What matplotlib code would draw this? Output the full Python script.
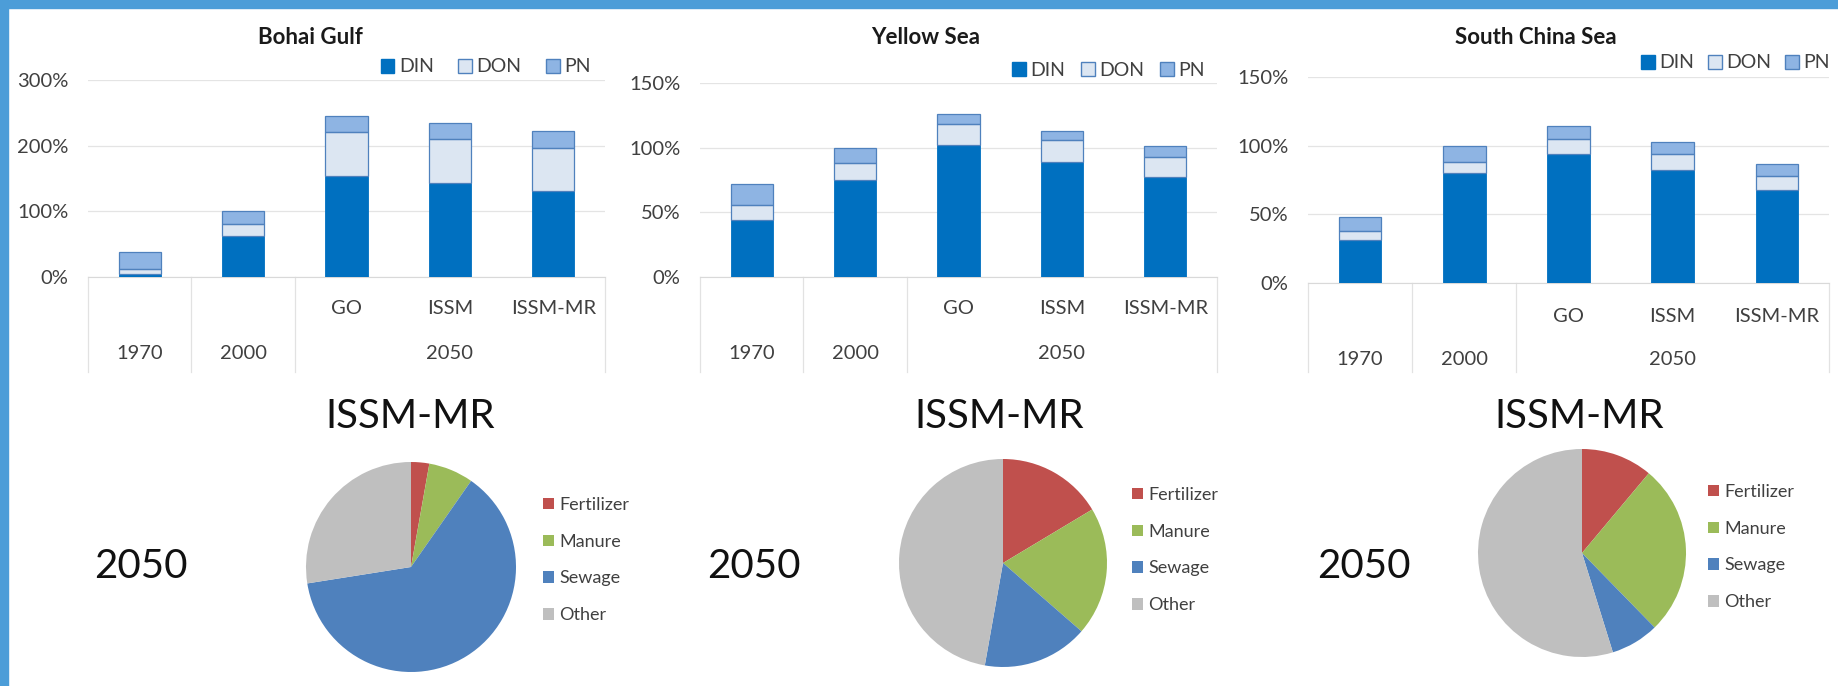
import matplotlib
matplotlib.use("Agg")
import matplotlib.pyplot as plt
from matplotlib.patches import Patch, Rectangle
from matplotlib.transforms import blended_transform_factory
import numpy as np

plt.rcParams['font.family'] = ['Lato', 'DejaVu Sans']

W, H = 1838, 686

# ---- data ----
row1_labels = ['', '', 'GO', 'ISSM', 'ISSM-MR']
row2_labels = ['1970', '2000', '2050']
row2_pos = [0, 1, 3]
nutrients = ['DIN', 'DON', 'PN']

bohai_din = [5, 62, 154, 143, 131]
bohai_don = [7, 19, 67, 67, 66]
bohai_pn = [26, 19, 24, 24, 25]

yellow_din = [44, 75, 102, 89, 77]
yellow_don = [12, 13, 16, 17, 16]
yellow_pn = [16, 12, 8, 7, 8]

scs_din = [31, 80, 94, 82, 68]
scs_don = [7, 8, 11, 12, 10]
scs_pn = [10, 12, 9, 9, 9]

sources = ['Fertilizer', 'Manure', 'Sewage', 'Other']
bohai_src = [2.8, 6.9, 62.8, 27.5]
yellow_src = [16.4, 20.0, 16.4, 47.2]
scs_src = [11.1, 26.6, 7.5, 54.8]

DIN_C, DON_C, PN_C, EDGE_C = '#0070C0', '#DCE6F2', '#8EB4E3', '#4F81BD'
PIE_C = ['#C0504D', '#9BBB59', '#4F81BD', '#BFBFBF']
TXT = '#404040'


def fx(x):
    return x / W


def fy(y):
    return 1 - y / H


def bar_panel(fig, left, right, y0, ytop, ymax, ystep, title, title_x,
              din, don, pn, leg_x, leg_y, colsp, row_y1, row_y2):
    ax = fig.add_axes([fx(left), fy(y0), fx(right - left), (y0 - ytop) / H])
    x = np.arange(len(din))
    din = np.array(din)
    don = np.array(don)
    pn = np.array(pn)
    w = 0.41
    ax.bar(x, din, w, color=DIN_C, edgecolor=DIN_C, linewidth=0.6, zorder=3)
    # DON: light fill with faint vertical dotted pattern
    ax.bar(x, don, w, bottom=din, color=DON_C, edgecolor='#C6D7EC',
           hatch=':::', linewidth=0, zorder=3)
    ax.bar(x, don, w, bottom=din, fill=False, edgecolor=EDGE_C,
           linewidth=0.9, zorder=4)
    ax.bar(x, pn, w, bottom=din + don, color=PN_C, edgecolor=EDGE_C,
           linewidth=0.9, zorder=3)
    ax.set_xlim(-0.5, len(din) - 0.5)
    ax.set_ylim(0, ymax)
    ax.set_yticks(np.arange(0, ymax + 1, ystep))
    ax.set_yticklabels([f'{int(v)}%' for v in np.arange(0, ymax + 1, ystep)])
    ax.tick_params(axis='y', length=0, pad=14, labelsize=14.5, labelcolor=TXT)
    ax.set_xticks([])
    for s in ['top', 'right', 'left']:
        ax.spines[s].set_visible(False)
    ax.spines['bottom'].set_color('#D9D9D9')
    ax.yaxis.grid(True, color='#E4E4E4', linewidth=0.9, zorder=0)
    ax.set_axisbelow(True)

    tr = blended_transform_factory(ax.transData, fig.transFigure)
    for xi, lab in zip(x, row1_labels):
        if lab:
            ax.text(xi, fy(row_y1), lab, transform=tr, ha='center',
                    va='center', fontsize=14.5, color=TXT)
    for xi, lab in zip(row2_pos, row2_labels):
        ax.text(xi, fy(row_y2), lab, transform=tr, ha='center',
                va='center', fontsize=14.5, color=TXT)
    for xs in [-0.5, 0.5, 1.5, len(din) - 0.5]:
        ax.plot([xs, xs], [fy(y0), fy(372)], transform=tr, color='#E2E2E2',
                linewidth=0.9, clip_on=False)

    fig.text(fx(title_x), fy(38), title, ha='center', va='center',
             fontsize=16, fontweight='bold', color='#1A1A1A')

    handles = [Patch(facecolor=DIN_C, edgecolor=DIN_C),
               Patch(facecolor=DON_C, edgecolor=EDGE_C),
               Patch(facecolor=PN_C, edgecolor=EDGE_C)]
    ax.legend(handles, nutrients, loc='center right', ncol=3,
              bbox_to_anchor=(fx(leg_x), fy(leg_y)),
              bbox_transform=fig.transFigure, frameon=False, fontsize=14,
              handlelength=0.7, handleheight=0.7, handletextpad=0.25,
              columnspacing=colsp, borderpad=0, borderaxespad=0,
              labelcolor=TXT)
    return ax


def pie_panel(fig, cx, cy, r, vals, title_x, year_x, leg_x, leg_y):
    ax = fig.add_axes([fx(cx - r), fy(cy + r), 2 * r / W, 2 * r / H])
    wedges, _ = ax.pie(vals, colors=PIE_C, startangle=90, counterclock=False,
                       radius=1, wedgeprops=dict(linewidth=0))
    ax.set_xlim(-1, 1)
    ax.set_ylim(-1, 1)
    ax.legend(wedges, sources, loc='center left',
              bbox_to_anchor=(fx(leg_x), fy(leg_y)),
              bbox_transform=fig.transFigure, frameon=False, fontsize=13,
              handlelength=0.6, handleheight=0.6, handletextpad=0.3,
              labelspacing=1.15, borderpad=0, borderaxespad=0,
              labelcolor=TXT)
    fig.text(fx(title_x), fy(417), 'ISSM-MR', ha='center', va='center',
             fontsize=29, color='#111111', family=['Lato', 'DejaVu Sans'],
             fontweight='normal')
    fig.text(fx(year_x), fy(567), '2050', ha='center', va='center',
             fontsize=29, color='#111111', family=['Lato', 'DejaVu Sans'],
             fontweight='normal')
    return ax


fig = plt.figure(figsize=(W / 100, H / 100), dpi=100)
fig.patch.set_facecolor('white')

bar_panel(fig, 88, 605, 277, 80, 300, 100, 'Bohai Gulf', 310,
          bohai_din, bohai_don, bohai_pn, 591, 67, 1.25, 308, 353)
bar_panel(fig, 700, 1217, 277, 83, 150, 50, 'Yellow Sea', 926,
          yellow_din, yellow_don, yellow_pn, 1205, 70, 0.8, 308, 353)
bar_panel(fig, 1308, 1829, 283, 77, 150, 50, 'South China Sea', 1536,
          scs_din, scs_don, scs_pn, 1830, 63, 0.7, 316, 360)

pie_panel(fig, 411, 567, 105, bohai_src, 410, 141, 543, 560)
pie_panel(fig, 1003, 563, 104, yellow_src, 999, 754, 1132, 550)
pie_panel(fig, 1582, 553, 104, scs_src, 1579, 1364, 1708, 547)

# blue frame on top and left edge
fig.patches.append(Rectangle((0, fy(8)), 1, 8 / H, transform=fig.transFigure,
                             color='#4C9DD8', zorder=10))
fig.patches.append(Rectangle((0, 0), fx(8), 1, transform=fig.transFigure,
                             color='#4C9DD8', zorder=10))

fig.savefig('out.png', dpi=100)
